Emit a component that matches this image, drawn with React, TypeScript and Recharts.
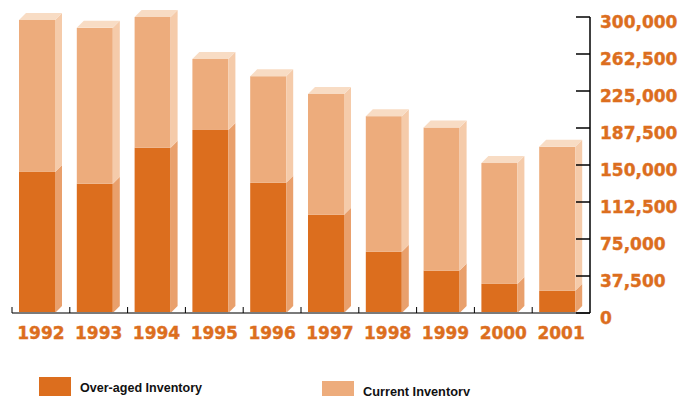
import React from "react";
import { BarChart, Bar, XAxis, YAxis } from "recharts";

// Inventory by year (units)
const years = ["1992", "1993", "1994", "1995", "1996", "1997", "1998", "1999", "2000", "2001"];
const overAged = [143000, 131000, 167500, 185500, 132000, 99500, 62000, 43000, 29500, 22500];
const current = [154000, 158000, 132500, 72000, 108000, 122500, 137500, 145000, 122500, 146000];
const yTicks = [0, 37500, 75000, 112500, 150000, 187500, 225000, 262500, 300000];

const data = years.map((year, i) => ({ year, overAged: overAged[i], current: current[i] }));

const W = 692;
const H = 396;
const MARGIN = { top: 17, right: 12, bottom: 53, left: 12 };
const Y_AXIS_W = 90;
const X_AXIS_H = 30;
const PLOT_W = W - MARGIN.left - MARGIN.right - Y_AXIS_W;
const HALF_BAND = PLOT_W / years.length / 2;

const DEPTH = 7;
const ORANGE = "#DC6E1E";
const DARK_SIDE = "#E9A06C";
const LIGHT_FRONT = "#EDAC7C";
const LIGHT_SIDE = "#F5CBAA";
const LIGHT_TOP = "#F8DCC4";
const LABEL_FONT = "'DejaVu Sans', Verdana, sans-serif";

type ShapeProps = { x?: number; y?: number; width?: number; height?: number };

function makeBox(front: string, side: string, top?: string) {
  return function Box(props: ShapeProps) {
    const x = Number(props.x ?? 0);
    const y = Number(props.y ?? 0);
    const w = Number(props.width ?? 0);
    const h = Number(props.height ?? 0);
    if (h <= 0) return <g />;
    const fw = w - DEPTH;
    return (
      <g>
        <rect x={x} y={y} width={fw} height={h} fill={front} />
        <polygon
          points={`${x + fw},${y} ${x + w},${y - DEPTH} ${x + w},${y + h - DEPTH} ${x + fw},${y + h}`}
          fill={side}
        />
        {top && (
          <polygon
            points={`${x},${y} ${x + DEPTH},${y - DEPTH} ${x + w},${y - DEPTH} ${x + fw},${y}`}
            fill={top}
          />
        )}
      </g>
    );
  };
}

const OverAgedShape = makeBox(ORANGE, DARK_SIDE);
const CurrentShape = makeBox(LIGHT_FRONT, LIGHT_SIDE, LIGHT_TOP);

function YearTick(props: any) {
  const { x, y, payload } = props;
  const bx = x - HALF_BAND;
  return (
    <g>
      <line x1={bx} y1={y} x2={bx} y2={y - 6} stroke="#000" strokeWidth={1} />
      <text
        x={x}
        y={y + 26}
        textAnchor="middle"
        fill={ORANGE}
        fontFamily={LABEL_FONT}
        fontWeight="bold"
        fontSize={17}
        stroke={ORANGE}
        strokeWidth={0.4}
      >
        {payload.value}
      </text>
    </g>
  );
}

function ValueTick(props: any) {
  const { x, y, payload } = props;
  const axisX = x - 10;
  return (
    <g>
      <line x1={axisX - 14} y1={y} x2={axisX} y2={y} stroke="#000" strokeWidth={1.5} />
      <text
        x={x}
        y={y + 11}
        textAnchor="start"
        fill={ORANGE}
        fontFamily={LABEL_FONT}
        fontWeight="bold"
        fontSize={17}
        stroke={ORANGE}
        strokeWidth={0.4}
      >
        {Number(payload.value).toLocaleString("en-US")}
      </text>
    </g>
  );
}

function LegendLayer() {
  const font = "'Liberation Sans Narrow', 'Liberation Sans', Arial, sans-serif";
  return (
    <svg
      width={W}
      height={H}
      style={{ position: "absolute", left: 0, top: 0, pointerEvents: "none" }}
    >
      <rect x={39} y={377} width={32} height={20} fill={ORANGE} />
      <text
        x={80}
        y={391.5}
        fontFamily={font}
        fontWeight="bold"
        fontSize={12.5}
        fill="#111"
        textLength={122}
        lengthAdjust="spacingAndGlyphs"
      >
        Over-aged Inventory
      </text>
      <rect x={322} y={381} width={32} height={16} fill={LIGHT_FRONT} />
      <text
        x={363}
        y={395.5}
        fontFamily={font}
        fontWeight="bold"
        fontSize={12.5}
        fill="#111"
        textLength={107}
        lengthAdjust="spacingAndGlyphs"
      >
        Current Inventory
      </text>
    </svg>
  );
}

export default function App() {
  return (
    <div style={{ position: "absolute", left: 0, top: 0, width: W, height: H, background: "#fff" }}>
      <BarChart width={W} height={H} data={data} margin={MARGIN} barSize={43}>
        <XAxis
          dataKey="year"
          height={X_AXIS_H}
          tickLine={false}
          tickSize={0}
          tickMargin={0}
          axisLine={{ stroke: "#7a7a7a", strokeWidth: 2 }}
          tick={<YearTick />}
          interval={0}
        />
        <YAxis
          orientation="right"
          width={Y_AXIS_W}
          domain={[0, 300000]}
          ticks={yTicks}
          tickLine={false}
          tickSize={10}
          tickMargin={0}
          axisLine={{ stroke: "#000", strokeWidth: 1.5 }}
          tick={<ValueTick />}
          interval={0}
        />
        <Bar dataKey="overAged" stackId="inv" shape={<OverAgedShape />} isAnimationActive={false} />
        <Bar dataKey="current" stackId="inv" shape={<CurrentShape />} isAnimationActive={false} />
      </BarChart>
      <LegendLayer />
    </div>
  );
}
